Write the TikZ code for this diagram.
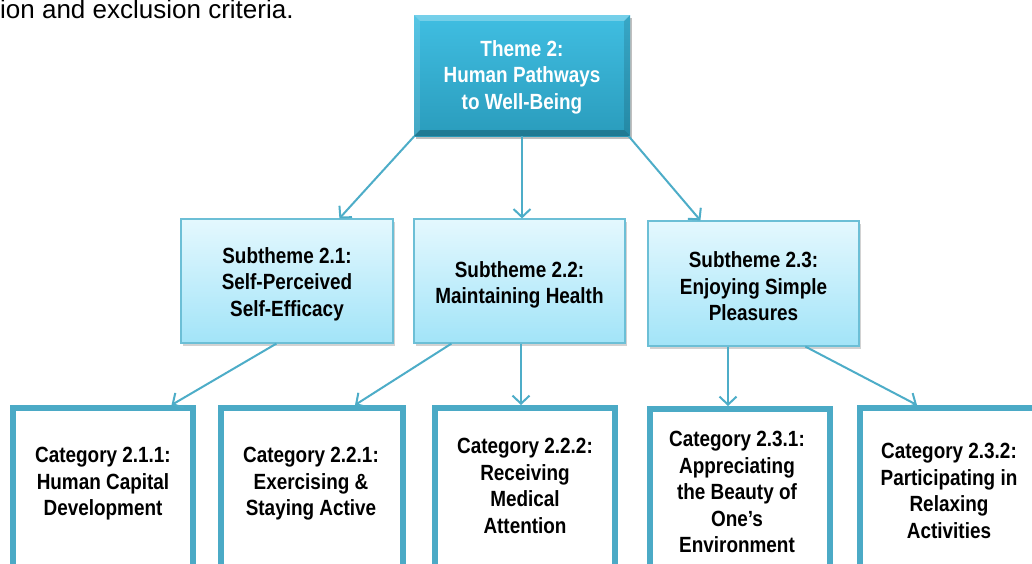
\documentclass[tikz,border=0pt]{standalone}
\usepackage{fontspec}
\setmainfont{Liberation Sans}
\newfontfamily\narrowfont{Liberation Sans}[FakeStretch=0.86]
\usetikzlibrary{arrows.meta,calc,shadows}
\definecolor{themeTop}{HTML}{40BEE2}
\definecolor{themeBot}{HTML}{2A9CBC}
\definecolor{subTop}{HTML}{E4F8FE}
\definecolor{subBot}{HTML}{A2E4F8}
\definecolor{subBorder}{HTML}{6CBFD6}
\definecolor{catBorder}{HTML}{4BAAC6}
\definecolor{lineC}{HTML}{4DADC8}
\tikzset{
  boxfont/.style={font=\narrowfont\bfseries\fontsize{22}{26.5}\selectfont},
  themebox/.style={rectangle, inner sep=0pt, minimum width=216pt, minimum height=121pt,
    top color=themeTop, bottom color=themeBot,
    drop shadow={shadow xshift=2pt, shadow yshift=-3pt, opacity=0.45, fill=black!55}},
  themetext/.style={boxfont, text=white, align=center, inner sep=0pt},
  subbox/.style={rectangle, inner sep=0pt, minimum width=211pt, minimum height=124pt,
    draw=subBorder, line width=1.2pt, top color=subTop, bottom color=subBot,
    drop shadow={shadow xshift=2pt, shadow yshift=-3pt, opacity=0.35, fill=black!50}},
  subtext/.style={boxfont, text=black, align=center, inner sep=0pt},
  catbox/.style={rectangle, inner sep=0pt, minimum width=180pt, minimum height=214pt,
    draw=catBorder, line width=6pt, fill=white},
  cattext/.style={boxfont, text=black, align=center, inner sep=0pt},
  conn/.style={draw=lineC, line width=2pt, -{Straight Barb[length=8pt,width=17pt]}},
}
\begin{document}
\begin{tikzpicture}[x=1pt,y=-1pt]
\useasboundingbox (0,0) rectangle (1032,563);
\clip (0,0) rectangle (1032,563);
\fill[white] (0,0) rectangle (1032,563);

% header text
\node[anchor=base west, inner sep=0pt, font=\fontsize{26}{30}\selectfont] (hdr) at (0,18) {ion and exclusion criteria.};

% theme box
\node[themebox] (theme) at (522,75.5) {};
\fill[white, opacity=0.28] (theme.north west) -- (theme.north east) -- ($(theme.north east)+(-6,6)$) -- ($(theme.north west)+(6,6)$) -- cycle;
\fill[white, opacity=0.12] (theme.north west) -- ($(theme.north west)+(6,6)$) -- ($(theme.south west)+(6,-6)$) -- (theme.south west) -- cycle;
\fill[black, opacity=0.12] (theme.north east) -- ($(theme.north east)+(-6,6)$) -- ($(theme.south east)+(-6,-6)$) -- (theme.south east) -- cycle;
\fill[black, opacity=0.22] (theme.south west) -- (theme.south east) -- ($(theme.south east)+(-6,-6)$) -- ($(theme.south west)+(6,-6)$) -- cycle;
\node[themetext] (themet) at (522,77) {Theme 2:\\Human Pathways\\to Well-Being};

% subtheme boxes
\node[subbox, minimum width=212pt] (s21) at (287,281) {};
\node[subbox] (s22) at (519.5,281) {};
\node[subbox, minimum height=125pt] (s23) at (753.5,283.5) {};
\node[subtext] (s21t) at (287,284) {Subtheme 2.1:\\Self-Perceived\\Self-Efficacy};
\node[subtext] (s22t) at (519.5,285) {Subtheme 2.2:\\Maintaining Health};
\node[subtext] (s23t) at (753.5,286.5) {Subtheme 2.3:\\Enjoying Simple\\Pleasures};

% category boxes
\node[catbox] (c211) at (102.5,515) {};
\node[catbox, minimum width=182pt] (c221) at (312,515) {};
\node[catbox] (c222) at (525,515) {};
\node[catbox] (c231) at (739.5,516) {};
\node[catbox] (c232) at (950,515) {};
\node[cattext] (c211t) at (103,484) {Category 2.1.1:\\Human Capital\\Development};
\node[cattext] (c221t) at (311,484) {Category 2.2.1:\\Exercising \&\\Staying Active};
\node[cattext] (c222t) at (525,486) {Category 2.2.2:\\Receiving\\Medical\\Attention};
\node[cattext] (c231t) at (737,492) {Category 2.3.1:\\Appreciating\\the Beauty of\\One’s\\Environment};
\node[cattext] (c232t) at (949,491) {Category 2.3.2:\\Participating in\\Relaxing\\Activities};

% connectors
\coordinate (p22b) at ($(s22.south west)+(107.6,0)$);
\coordinate (p23b) at ($(s23.south west)+(80.6,0)$);
\draw[conn] ($(theme.south west)+(0.5,0)$) -- ($(s21.north west)+(159,0)$);
\draw[conn] (theme.south) -- (theme.south |- s22.north);
\draw[conn] ($(theme.south east)+(-1.5,0)$) -- ($(s23.north west)+(53,0)$);
\draw[conn] ($(s21.south west)+(96,0)$) -- ($(c211.north west)+(162,0)$);
\draw[conn] ($(s22.south west)+(38,0)$) -- ($(c221.north west)+(137,0)$);
\draw[conn] (p22b) -- (p22b |- c222.north);
\draw[conn] (p23b) -- (p23b |- c231.north);
\draw[conn] ($(s23.south west)+(158,0)$) -- ($(c232.north west)+(60,0)$);
\end{tikzpicture}
\end{document}
